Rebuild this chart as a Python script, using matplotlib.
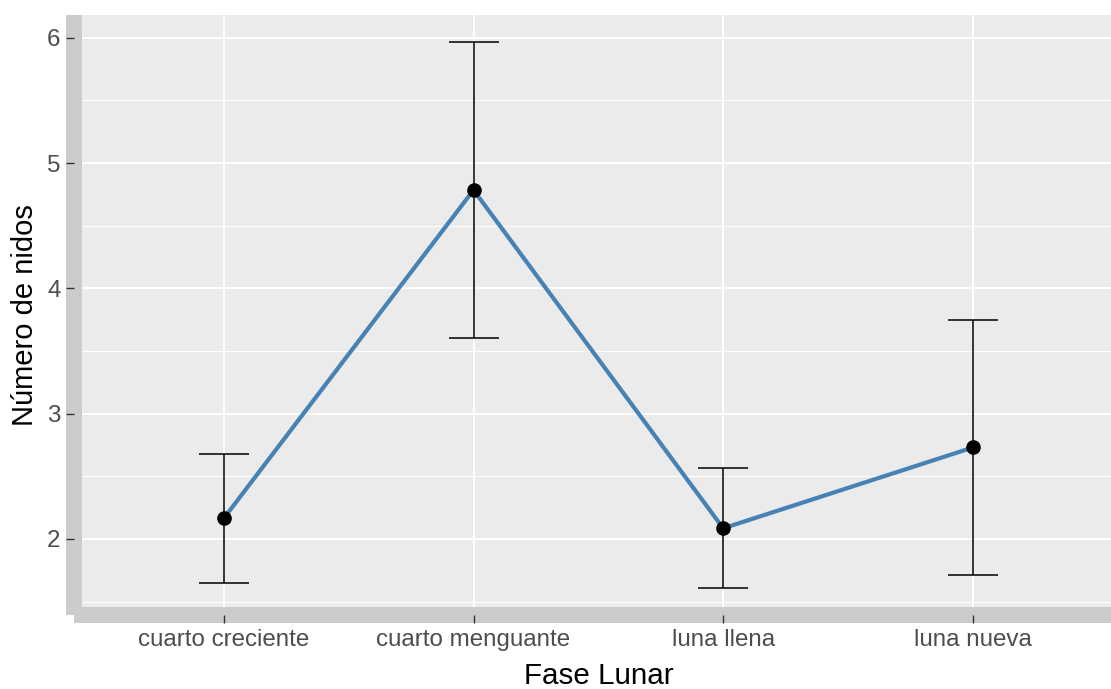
import matplotlib.pyplot as plt
from matplotlib.ticker import MultipleLocator

fases = ['cuarto creciente', 'cuarto menguante', 'luna llena', 'luna nueva']
media = [2.165, 4.785, 2.085, 2.73]
inferior = [1.65, 3.60, 1.605, 1.715]
superior = [2.675, 5.965, 2.565, 3.745]

plt.rcParams['font.family'] = ['Liberation Sans', 'DejaVu Sans']

fig = plt.figure(figsize=(11.11, 6.89), dpi=100)
# panel runs past the right edge like in the cropped reference
pos = [74/1111, 74/689, 1048.7/1111, 600/689]
ax = fig.add_axes(pos)
ax.set_facecolor('#EBEBEB')

x = list(range(len(fases)))
err = [[m - lo for m, lo in zip(media, inferior)],
       [hi - m for m, hi in zip(media, superior)]]

ax.plot(x, media, color='#4682B4', lw=3.0, zorder=3)
ax.errorbar(x, media, yerr=err, fmt='none', ecolor='black',
            elinewidth=1.1, capsize=18, capthick=1.1, zorder=4)
ax.plot(x, media, 'o', color='black', markersize=9.5, zorder=5)

ax.set_xlim(-0.6, 3.6)
ax.set_ylim(1.393, 6.182)
ax.set_xticks(x)
ax.set_xticklabels(fases)
ax.yaxis.set_major_locator(MultipleLocator(1))
ax.yaxis.set_minor_locator(MultipleLocator(0.5))

ax.set_axisbelow(True)
ax.grid(which='major', color='white', lw=1.4)
ax.grid(which='minor', axis='y', color='white', lw=0.7)

for s in ['top', 'right']:
    ax.spines[s].set_visible(False)
for s in ['left', 'bottom']:
    ax.spines[s].set_color('#CCCCCC')
    ax.spines[s].set_linewidth(16 / 1.389)
    ax.spines[s].set_capstyle('butt')

ax.tick_params(which='major', length=0, labelcolor='#4D4D4D',
               labelsize=17.4, pad=9.8)
ax.tick_params(which='minor', length=0)

ax.set_xlabel('Fase Lunar', fontsize=21.3, color='black', labelpad=8)
ax.set_ylabel('Número de nidos', fontsize=21, color='black', labelpad=6)

# tick marks drawn above the thick axis lines
ax2 = fig.add_axes(pos, sharex=ax, sharey=ax)
ax2.patch.set_visible(False)
for s in ax2.spines.values():
    s.set_visible(False)
ax2.tick_params(which='major', length=5.8, width=1.0, color='#333333',
                labelleft=False, labelbottom=False)
ax2.tick_params(which='minor', length=0)

fig.savefig('out.png', dpi=100)
